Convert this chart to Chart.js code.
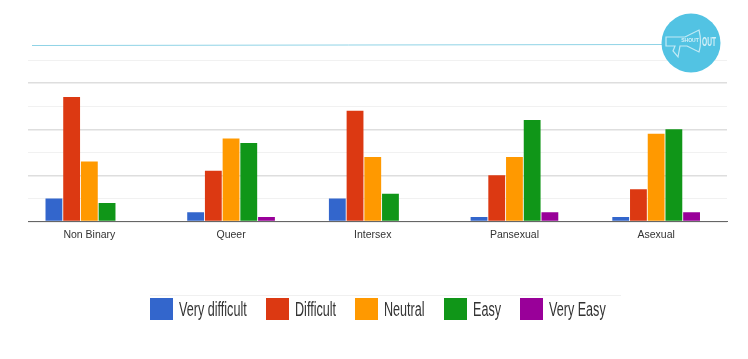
<!DOCTYPE html>
<html>
<head>
<meta charset="utf-8">
<title>Shout Out chart</title>
<script src="https://cdn.jsdelivr.net/npm/chart.js@4"></script>
<style>
  html, body { margin: 0; padding: 0; background: #fff; }
  #wrap { position: relative; width: 748px; height: 359px; overflow: hidden; }
  #legenda { position: absolute; left: 150px; top: 298px; display: flex; font: 20px "Liberation Sans"; color: #333; }
  #legenda .item { display: flex; align-items: center; height: 22px; margin-right: 19px; }
  #legenda .cor { width: 23px; height: 22px; margin-right: 6px; flex: none; }
  #legenda .txt { display: block; white-space: nowrap; transform-origin: left center; }
</style>
</head>
<body>
<div id="wrap"><canvas id="grafico"></canvas><div id="legenda"></div></div>
<script>
const categorias = ['Non Binary', 'Queer', 'Intersex', 'Pansexual', 'Asexual'];
const veryDifficult = [5, 2, 5, 1, 1];
const difficult = [27, 11, 24, 10, 7];
const neutral = [13, 18, 14, 14, 19];
const easy = [4, 17, 6, 22, 20];
const veryEasy = [0, 1, 0, 2, 2];

// Linha azul do topo, logo e detalhes fora do eixo
const decoracao = {
  id: 'decoracao',
  afterDraw(chart) {
    const ctx = chart.ctx;
    ctx.save();

    // a grade do original começa um pouco depois da área das categorias
    ctx.fillStyle = '#fff';
    ctx.fillRect(0, 50, 28, 180);

    ctx.strokeStyle = '#8fd3e6';
    ctx.lineWidth = 1;
    ctx.beginPath();
    ctx.moveTo(32, 45.5);
    ctx.lineTo(665, 44.5);
    ctx.stroke();

    ctx.strokeStyle = '#f0f0f0';
    ctx.beginPath();
    ctx.moveTo(150, 295.5);
    ctx.lineTo(621, 295.5);
    ctx.stroke();

    ctx.fillStyle = '#52c3e3';
    ctx.beginPath();
    ctx.arc(691, 43, 29.5, 0, Math.PI * 2);
    ctx.fill();

    // megafone
    ctx.strokeStyle = 'rgba(255,255,255,0.65)';
    ctx.lineWidth = 1.2;
    ctx.beginPath();
    ctx.moveTo(666, 37);
    ctx.lineTo(685, 37);
    ctx.lineTo(699, 30);
    ctx.quadraticCurveTo(702, 42, 699, 52);
    ctx.lineTo(687, 46);
    ctx.lineTo(680, 46);
    ctx.lineTo(678, 57);
    ctx.lineTo(673, 51);
    ctx.lineTo(675, 46);
    ctx.lineTo(666, 46);
    ctx.closePath();
    ctx.stroke();

    ctx.fillStyle = 'rgba(255,255,255,0.75)';
    ctx.textAlign = 'center';
    ctx.textBaseline = 'middle';
    ctx.font = 'bold 5px "Liberation Sans"';
    ctx.fillText('SHOUT', 690, 41);
    // OUT é bem condensado no original
    ctx.translate(709, 42.5);
    ctx.scale(0.55, 1);
    ctx.font = 'bold 12px "Liberation Sans"';
    ctx.fillText('OUT', 0, 0);
    ctx.restore();
  }
};

function serie(label, data, cor) {
  return { label, data, backgroundColor: cor, categoryPercentage: 0.625, barPercentage: 0.95 };
}

const chart = new Chart(document.getElementById('grafico').getContext('2d'), {
  type: 'bar',
  data: {
    labels: categorias,
    datasets: [
      serie('Very difficult', veryDifficult, '#3366cc'),
      serie('Difficult', difficult, '#dc3912'),
      serie('Neutral', neutral, '#ff9900'),
      serie('Easy', easy, '#109618'),
      serie('Very Easy', veryEasy, '#990099')
    ]
  },
  options: {
    responsive: true,
    maintainAspectRatio: false,
    animation: false,
    layout: { padding: { left: 18.5, right: 21, top: 60, bottom: 100 } },
    scales: {
      x: {
        grid: { display: false, drawTicks: false },
        border: { color: '#666', width: 1 },
        ticks: { color: '#333', font: { family: '"Liberation Sans"', size: 10.5 }, padding: 7 },
        afterFit(scale) { scale.height = 37.5; }
      },
      y: {
        min: 0,
        max: 35,
        grid: {
          color: (c) => (c.tick.value % 10 === 0 ? '#dedede' : '#f1f1f1'),
          lineWidth: (c) => (c.tick.value % 10 === 0 ? 1.4 : 1),
          drawTicks: false
        },
        border: { display: false },
        ticks: { display: false, stepSize: 5 }
      }
    },
    plugins: {
      tooltip: { enabled: false },
      legend: { display: false }
    }
  },
  plugins: [decoracao]
});

// Legenda em HTML: o texto do original é condensado, coisa que a legenda do Chart.js não faz
const legenda = document.getElementById('legenda');
chart.data.datasets.forEach((ds) => {
  const item = document.createElement('div');
  item.className = 'item';
  item.innerHTML = `<span class="cor" style="background:${ds.backgroundColor}"></span><span class="txt">${ds.label}</span>`;
  legenda.appendChild(item);
  const txt = item.querySelector('.txt');
  const largura = txt.offsetWidth;
  txt.style.transform = 'scaleX(0.63)';
  txt.style.marginRight = `${-largura * 0.37}px`;
});
</script>
</body>
</html>
